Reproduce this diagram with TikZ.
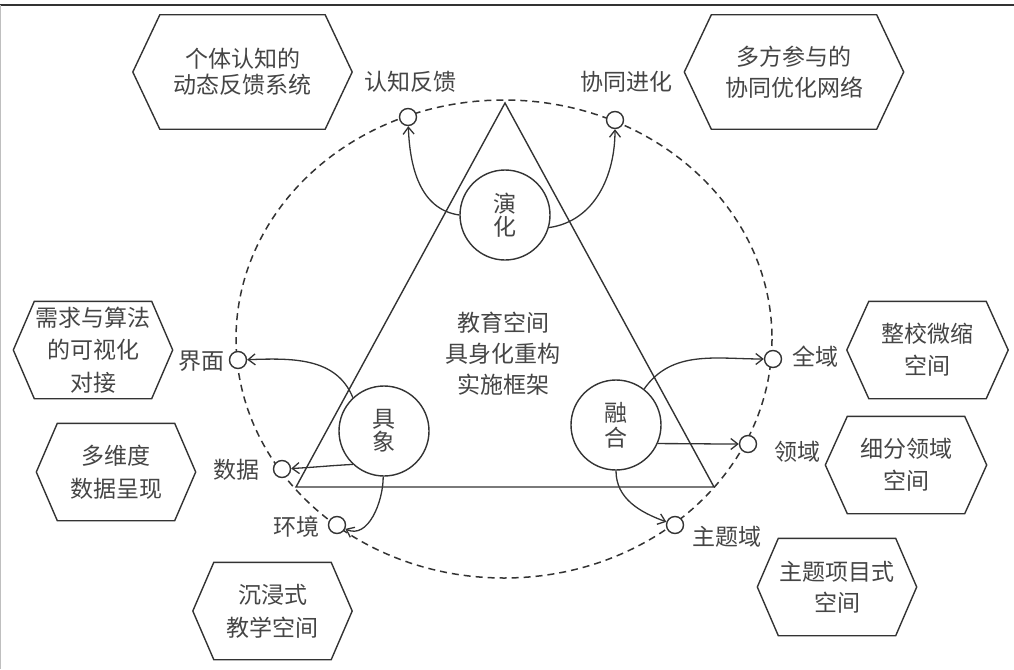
\documentclass[tikz,border=0pt]{standalone}
\usepackage{fontspec}
\setmainfont{Noto Sans CJK SC}
\usetikzlibrary{arrows.meta}
\definecolor{ln}{HTML}{333333}
\definecolor{tx}{HTML}{454545}
\newcommand{\hexa}[2]{\draw[hexline] (#1.north west) -- (#1.north east) -- ([xshift=#2pt]#1.east) -- (#1.south east) -- (#1.south west) -- ([xshift=-#2pt]#1.west) -- cycle;}
\begin{document}
\begin{tikzpicture}[x=1pt,y=-1pt,
  ls/.style={font=\fontsize{23}{#1}\selectfont},
  txt/.style={ls=29, text=tx, align=center, inner sep=0pt},
  big/.style={circle, draw=ln, line width=1.4pt, minimum size=90pt, inner sep=0pt, fill=white, txt},
  small/.style={circle, draw=ln, line width=1.4pt, minimum size=17pt, inner sep=0pt, fill=white},
  hexbox/.style={rectangle, inner sep=0pt, txt},
  wide/.style={minimum width=165pt, minimum height=114pt},
  narrow/.style={minimum width=117pt, minimum height=97pt},
  hexline/.style={draw=ln, line width=1.4pt, line join=miter},
  arr/.style={draw=ln, line width=1.3pt, -{Straight Barb[length=7pt,width=11pt]}},
  lbl/.style={txt},
]
\useasboundingbox (0,0) rectangle (1014,669);
% frame
\coordinate (ftl) at (0,5);
\coordinate (ftr) at (1014,5);
\coordinate (fbl) at (0.6,669);
\draw[ln, line width=1.2pt] (ftl) -- (ftr);
\draw[black!25, line width=1pt] ([xshift=0.6pt]ftl) -- (fbl);

% dashed ellipse
\coordinate (ec) at (504,339);
\draw[ln, line width=1.5pt, dash pattern=on 7pt off 5pt] (ec) ellipse [x radius=268, y radius=239];

% triangle
\coordinate (ta) at (505,103);
\coordinate (tl) at (296,487);
\coordinate (tr) at (714,487);
\draw[ln, line width=1.4pt, line join=miter] (ta) -- (tl) -- (tr) -- cycle;

% centre text
\node[txt, ls=31] (ctr) at (503,354) {教育空间\\具身化重构\\实施框架};

% big circles
\node[big, ls=23] (yh) at (505,215) {演\\化};
\node[big, ls=23] (jx) at (384,431) {具\\象};
\node[big, ls=25] (rh) at (616,425) {融\\合};

% small circles
\node[small] (s1) at (408,117) {};
\node[small] (s2) at (615,120) {};
\node[small] (s3) at (238,360) {};
\node[small] (s4) at (282,469) {};
\node[small] (s5) at (337,525) {};
\node[small] (s6) at (773,359) {};
\node[small] (s7) at (748,444) {};
\node[small] (s8) at (675,525) {};

% labels
\node[lbl] (l1) at (410,82) {认知反馈};
\node[lbl] (l2) at (626,82) {协同进化};
\node[lbl] (l3) at (201,361) {界面};
\node[lbl] (l4) at (236,470) {数据};
\node[lbl] (l5) at (296,527) {环境};
\node[lbl] (l6) at (815,357) {全域};
\node[lbl] (l7) at (797,452) {领域};
\node[lbl] (l8) at (727,537) {主题域};

% arrows
\draw[arr] (yh.180) to[out=172, in=-88] (s1);
\draw[arr] (yh.-16) to[out=8, in=-90] (s2);
\draw[arr] (jx.133) to[out=112, in=2] (s3);
\draw[arr] (jx.-133) to[out=183, in=3] (s4);
\draw[arr] (jx.-91) to[out=-90, in=-25] (s5);
\draw[arr] (rh.52) to[out=55, in=180] (s6);
\draw[arr] (rh.-24) to[out=0, in=180] (s7);
\draw[arr] (rh.-90) to[out=-90, in=160] (s8);

% hexagons
\node[hexbox, wide, ls=26] (h1) at (242.5,72) {个体认知的\\动态反馈系统};
\hexa{h1}{27}
\node[hexbox, wide, ls=31] (h2) at (794,72) {多方参与的\\协同优化网络};
\hexa{h2}{27}
\node[hexbox, narrow, ls=32.5] (h3) at (93,350) {需求与算法\\的可视化\\对接};
\hexa{h3}{21}
\node[hexbox, narrow, ls=33] (h4) at (116,472) {多维度\\数据呈现};
\hexa{h4}{21}
\node[hexbox, narrow, ls=33] (h5) at (272.5,611) {沉浸式\\教学空间};
\hexa{h5}{21}
\node[hexbox, narrow, ls=32] (h6) at (927.5,350) {整校微缩\\空间};
\hexa{h6}{22}
\node[hexbox, narrow, ls=32] (h7) at (906,465) {细分领域\\空间};
\hexa{h7}{22}
\node[hexbox, narrow, ls=31] (h8) at (837,587) {主题项目式\\空间};
\hexa{h8}{21}
\end{tikzpicture}
\end{document}
